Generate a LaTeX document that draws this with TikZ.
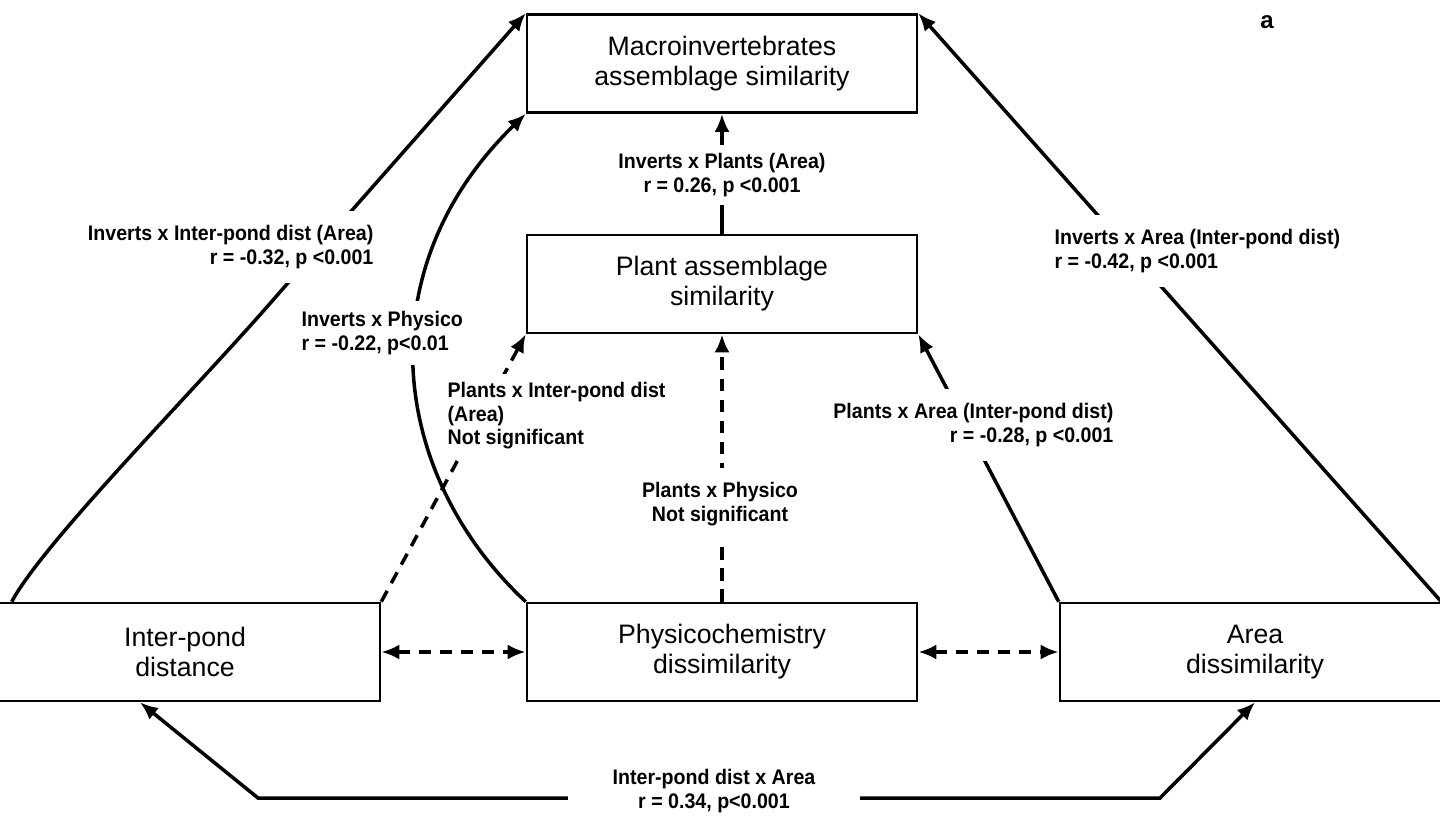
\documentclass[tikz,border=0pt]{standalone}
\usepackage{fontspec}
\setmainfont{Liberation Sans}
\newfontfamily\lblfont[FakeStretch=0.93]{Liberation Sans}
\usetikzlibrary{arrows.meta}

\begin{document}
\begin{tikzpicture}[x=0.02cm, y=-0.02cm,
    box/.style={draw, line width=1.5pt, minimum width=7.8cm, minimum height=1.96cm,
                inner sep=0pt, align=center, font=\fontsize{15.2}{17}\selectfont},
    arr/.style={line width=2pt, -{Latex[length=3.6mm,width=3mm]}},
    twoway/.style={line width=2pt, {Latex[length=3.6mm,width=3mm]}-{Latex[length=3.6mm,width=3mm]}},
    dsh/.style={dash pattern=on 7pt off 5pt},
    lbl/.style={fill=white, inner sep=3pt, align=center, font=\lblfont\bfseries\fontsize{12}{13.4}\selectfont}]

\useasboundingbox (0,0) rectangle (1440,818);

% boxes
\node[box] (macro) at (722,63.5) {Macroinvertebrates\\assemblage similarity};
\node[box] (plant) at (722,284) {Plant assemblage\\similarity};
\node[box] (ipd) at (185,652) {Inter-pond\\distance};
\node[box] (phys) at (722,652) {Physicochemistry\\dissimilarity};
\node[box] (area) at (1255,652) {Area\\dissimilarity};

\node[font=\bfseries\fontsize{13.7}{15}\selectfont] (tag) at (1267,22) {a};

% paths to the macroinvertebrates
\draw[arr] ([xshift=0.46cm]ipd.north west) .. controls (45,540) and (200,385) .. (280,292) -- (macro.north west);
\draw[arr] (phys.north west) .. controls (390,475) and (365,270) .. (macro.south west);
\draw[arr] (plant.north) -- (macro.south);
\draw[arr] ([xshift=-0.2cm]area.north east) -- (macro.north east);

% paths to the plants
\draw[arr, dsh] (ipd.north east) -- (plant.south west);
\draw[arr, dsh] (phys.north) -- (plant.south);
\draw[arr] (area.north west) -- (plant.south east);

% between the predictors
\draw[twoway, dsh] (ipd.east) -- (phys.west);
\draw[twoway, dsh] (phys.east) -- (area.west);
\draw[twoway] ([xshift=-0.9cm]ipd.south) -- (258,798) -- (1160,798) -- (area.south);

% labels
\node[lbl, inner ysep=8pt, align=right, anchor=east] (l1) at (379,247) {Inverts x Inter-pond dist (Area)\\r = -0.32, p <0.001};
\node[lbl, inner ysep=6pt, align=left, anchor=west] (l2) at (296,333) {Inverts x Physico\\r = -0.22, p<0.01};
\node[lbl, inner ysep=5pt, align=left, anchor=west] (l3) at (442,416) {Plants x Inter-pond dist\\(Area)\\Not significant};
\node[lbl, inner ysep=8pt] (l4) at (720,504) {Plants x Physico\\Not significant};
\node[lbl, inner ysep=5pt] (l5) at (722,175) {Inverts x Plants (Area)\\r = 0.26, p <0.001};
\node[lbl, inner ysep=8pt, align=right, anchor=east] (l6) at (1119,425) {Plants x Area (Inter-pond dist)\\r = -0.28, p <0.001};
\node[lbl, inner ysep=8pt, align=left, anchor=west] (l7) at (1049,251) {Inverts x Area (Inter-pond dist)\\r = -0.42, p <0.001};
\node[lbl, inner xsep=0.9cm, inner ysep=2pt] (l8) at (714,791) {Inter-pond dist x Area\\r = 0.34, p<0.001};
\end{tikzpicture}
\end{document}
